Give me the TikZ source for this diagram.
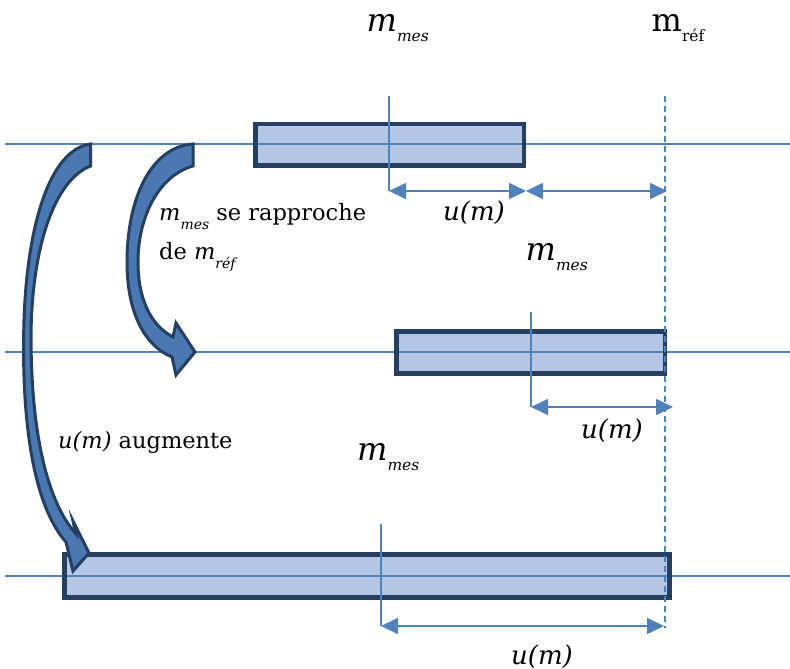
\documentclass[tikz,border=0pt]{standalone}
\usepackage{fontspec}
\setmainfont{DejaVu Serif}
\usetikzlibrary{arrows.meta}
\definecolor{lineblue}{RGB}{79,129,189}
\definecolor{boxfill}{RGB}{180,199,228}
\definecolor{boxdraw}{RGB}{36,63,96}
\definecolor{arrowfill}{RGB}{74,120,178}
\newcommand{\lsub}[1]{\raisebox{-10pt}{\fontsize{15.5}{16}\selectfont #1}}
\newcommand{\bsub}[1]{\raisebox{-9pt}{\fontsize{14}{14}\selectfont #1}}
\begin{document}
\begin{tikzpicture}[x=1pt,y=-1pt,
  axis/.style={draw=lineblue,line width=1.3pt},
  barfill/.style={fill=boxfill},
  bardraw/.style={draw=boxdraw,line width=4.5pt},
  dim/.style={draw=lineblue,line width=1.6pt,{Triangle[length=17pt,width=16pt]}-{Triangle[length=17pt,width=16pt]}},
  refline/.style={draw=lineblue,line width=1.3pt,dash pattern=on 6pt off 4pt},
  tickline/.style={draw=lineblue,line width=1.3pt},
  curved/.style={draw=boxdraw,line width=3pt,fill=arrowfill,line join=miter},
  lbl/.style={anchor=base west,inner sep=0pt,font=\fontsize{32}{36}\selectfont},
  ulbl/.style={anchor=base west,inner sep=0pt,font=\fontsize{26}{30}\selectfont},
  txt/.style={anchor=base west,inner sep=0pt,font=\fontsize{22.5}{28}\selectfont}]
\useasboundingbox (0,0) rectangle (790,669);

% coordinates
\coordinate (L1a) at (5,144);   \coordinate (L1b) at (790,144);
\coordinate (L2a) at (5,352);   \coordinate (L2b) at (790,352);
\coordinate (L3a) at (5,576);   \coordinate (L3b) at (790,576);
\coordinate (B1a) at (255.5,124); \coordinate (B1b) at (524,165.5);
\coordinate (B2a) at (396.5,331.5); \coordinate (B2b) at (665,373.5);
\coordinate (B3a) at (64.5,554.5); \coordinate (B3b) at (669.5,597.5);
\coordinate (Rt) at (665,96);   \coordinate (Rb) at (665,628);
\coordinate (T1t) at (389,96);  \coordinate (T1b) at (389,191);
\coordinate (M1) at (526,191);  \coordinate (R1) at (667,191);
\coordinate (T2t) at (531,312); \coordinate (T2b) at (531,407);
\coordinate (R2) at (673,407);
\coordinate (T3t) at (381,524); \coordinate (T3b) at (381,626);
\coordinate (R3) at (664,626);

% box fills
\path[barfill] (B1a) rectangle (B1b);
\path[barfill] (B2a) rectangle (B2b);
\path[barfill] (B3a) rectangle (B3b);

% horizontal axes
\draw[axis] (L1a) -- (L1b);
\draw[axis] (L2a) -- (L2b);
\draw[axis] (L3a) -- (L3b);

% box borders
\draw[bardraw] (B1a) rectangle (B1b);
\draw[bardraw] (B2a) rectangle (B2b);
\draw[bardraw] (B3a) rectangle (B3b);

% reference dashed line
\draw[refline] (Rt) -- (Rb);

% measurement ticks
\draw[tickline] (T1t) -- (T1b);
\draw[tickline] (T2t) -- (T2b);
\draw[tickline] (T3t) -- (T3b);

% dimension arrows
\draw[dim] (T1b) -- (M1);
\draw[dim] (M1) -- (R1);
\draw[dim] (T2b) -- (R2);
\draw[dim] (T3b) -- (R3);

% curved block arrows
\path[curved] (90.5,144) .. controls (48,150) and (27,230) .. (24,320)
  .. controls (21,420) and (33,505) .. (66,542) -- (73,571) -- (89,553) -- (73,521) -- (76,534)
  .. controls (46,500) and (31,430) .. (31,335)
  .. controls (32,245) and (55,180) .. (90.5,166) -- cycle;
\path[curved] (193,144) .. controls (150,147) and (127,200) .. (127,262)
  .. controls (127,310) and (143,345) .. (172,357) -- (176,375) -- (195,352) -- (176,323) -- (173,337)
  .. controls (150,325) and (138,298) .. (138,262)
  .. controls (138,215) and (160,175) .. (193,166) -- cycle;

% labels
\node[lbl] (mmes1) at (366.5,31.7) {\textit{m}\lsub{\textit{mes}}};
\node[lbl] (mref) at (651.5,31.7) {m\lsub{réf}};
\node[lbl] (mmes2) at (525.5,260) {\textit{m}\lsub{\textit{mes}}};
\node[lbl] (mmes3) at (357,460) {\textit{m}\lsub{\textit{mes}}};
\node[ulbl] (u1) at (443,220) {\textit{u(m)}};
\node[ulbl] (u2) at (581,438) {\textit{u(m)}};
\node[ulbl] (u3) at (511,664) {\textit{u(m)}};
\node[txt] (t1) at (159,220) {\textit{m}\bsub{\textit{mes}} se rapproche};
\node[txt] (t2) at (159,259.5) {de \textit{m}\bsub{\textit{réf}}};
\node[txt] (t3) at (58,448) {\textit{u(m)} augmente};
\end{tikzpicture}
\end{document}
